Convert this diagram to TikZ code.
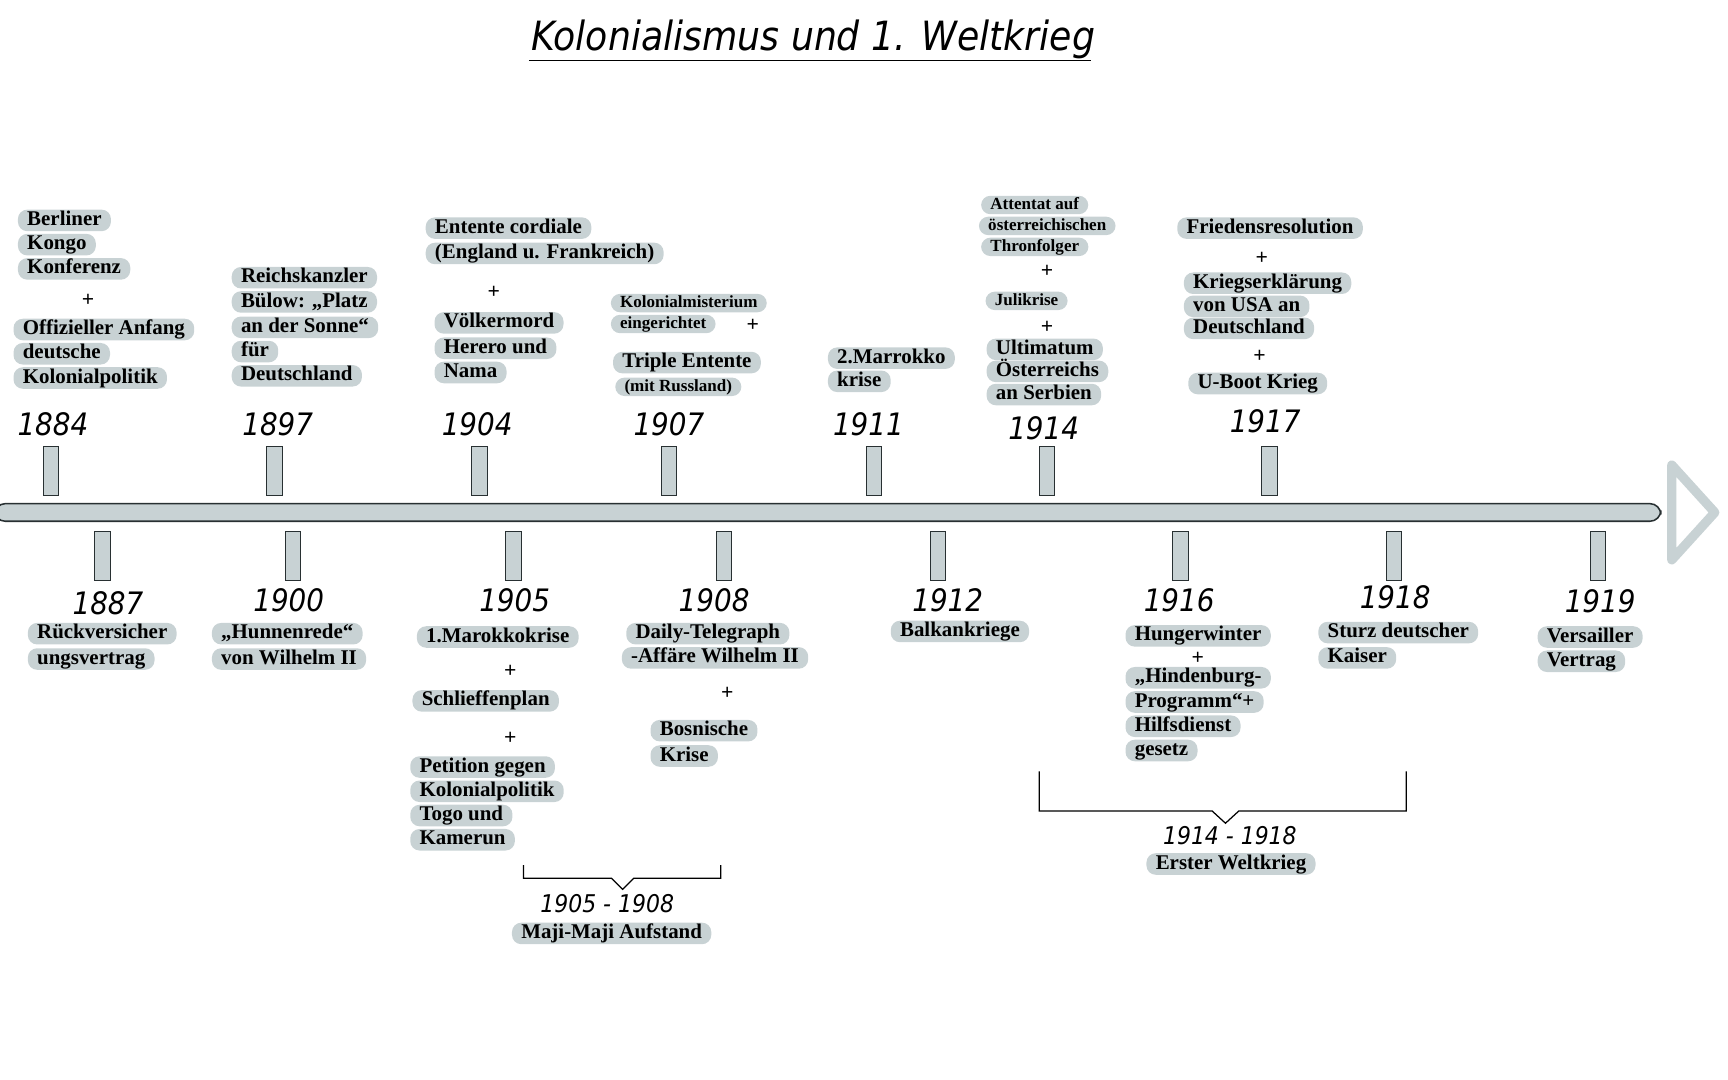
\documentclass[tikz,border=0pt]{standalone}
\usepackage{fontspec}
\setmainfont{Liberation Serif}
\newfontfamily\handfont{DejaVu Sans Condensed}
\usetikzlibrary{calc}
\definecolor{hlgray}{RGB}{200,210,212}
\definecolor{barline}{RGB}{40,48,50}
\begin{document}
\begin{tikzpicture}[x=0.025cm,y=-0.025cm,
  hl/.style={fill=hlgray,rounded corners=6pt,anchor=west,inner xsep=6pt,inner ysep=1.2pt,
    font=\bfseries\fontsize{13.5}{14}\selectfont,text height=9pt,text depth=2.5pt},
  hs/.style={hl,font=\bfseries\fontsize{11}{12}\selectfont,text height=7.5pt,text depth=2pt},
  plus/.style={font=\bfseries\fontsize{14}{14}\selectfont},
  year/.style={font=\handfont\itshape\fontsize{19}{20}\selectfont,scale=1.05},
  tick/.style={fill=hlgray,draw=barline,line width=0.6pt}]
        \useasboundingbox (0,0) rectangle (1568,980);
        % title
        \node[font=\handfont\itshape\fontsize{26}{28}\selectfont] (title) at (738,36) {Kolonialismus und 1. Weltkrieg};
        \coordinate (ul1) at (480,55);
        \coordinate (ul2) at (990,55);
        \draw[line width=0.8pt] (ul1) -- (ul2);
        % timeline
        \draw[fill=hlgray,draw=barline,line width=1pt,rounded corners=7pt] (-5,457) rectangle (1507,473);
        \coordinate (a1) at (1517,422);
        \coordinate (a2) at (1556,465);
        \coordinate (a3) at (1517,508);
        \draw[hlgray,line width=6pt,fill=white,line join=round] (a1) -- (a2) -- (a3) -- cycle;
        \foreach \x in {46,249,435,607,793,950,1152}
          \draw[tick] (\x-7,405) rectangle (\x+7,450);
        \foreach \x in {93,266,466,657,851,1071,1265,1450}
          \draw[tick] (\x-7,482) rectangle (\x+7,527);
        % years
        \foreach \x/\y/\t [count=\i] in {48/385/1884,252/385/1897,433/385/1904,607/385/1907,788/385/1911,
            947/389/1914,1148/382/1917,98/547/1887,262/545/1900,467/545/1905,648/545/1908,
            860/545/1912,1070/545/1916,1266/542/1918,1452/546/1919}
          \node[year] (y\i) at (\x,\y) {\t};
        % upper texts
        \foreach \x/\y/\t [count=\i] in {16/200/Berliner,16/222/Kongo,16/244/Konferenz,
            12/299/Offizieller Anfang,12/321/deutsche,12/343/Kolonialpolitik,
            210/252/Reichskanzler,210/274/{Bülow: „Platz},210/297/{an der Sonne“},210/319/für,210/341/Deutschland,
            386/207/Entente cordiale,386/230/(England u. Frankreich),394/293/Völkermord,394/316/Herero und,394/338/Nama,
            556/329/Triple Entente,751/325/2.Marrokko,751/346/krise,
            1068/207/Friedensresolution,1074/257/Kriegserklärung,1074/278/von USA an,1074/298/Deutschland,1078/348/U-Boot Krieg,
            895/317/Ultimatum,895/337/Österreichs,895/358/an Serbien}
          \node[hl] (u\i) at (\x,\y) {\t};
        \foreach \x/\y/\t [count=\i] in {554/275/Kolonialmisterium,554/294/eingerichtet,558/351/(mit Russland),
            890/186/Attentat auf,888/205/österreichischen,890/224/Thronfolger,894/273/Julikrise}
          \node[hs] (s\i) at (\x,\y) {\t};
        % lower texts
        \foreach \x/\y/\t [count=\i] in {25/575/Rückversicher,25/598/ungsvertrag,
            192/575/„Hunnenrede“,192/598/von Wilhelm II,
            378/578/1.Marokkokrise,374/636/Schlieffenplan,372/696/Petition gegen,372/718/Kolonialpolitik,372/740/Togo und,372/762/Kamerun,
            568/575/Daily-Telegraph,564/597/-Affäre Wilhelm II,590/663/Bosnische,590/686/Krise,
            808/573/Balkankriege,
            1021/577/Hungerwinter,1021/615/„Hindenburg-,1021/637/Programm“+,1021/659/Hilfsdienst,1021/681/gesetz,
            1196/574/Sturz deutscher,1196/597/Kaiser,1395/578/Versailler,1395/600/Vertrag}
          \node[hl] (l\i) at (\x,\y) {\t};
        % plus signs
        \foreach \x/\y [count=\i] in {80/273,448/265,683/295,950/246,950/297,1145/234,1143/323,
            463/609,463/670,660/629,1087/597}
          \node[plus] (p\i) at (\x,\y) {+};
        % brackets
        \coordinate (b1) at (475,785);
        \coordinate (b2) at (654,785);
        \draw[line width=0.8pt] (b1) -- ++(0,12) -- (555,797) -- (565,807) -- (575,797) -- ($(b2)+(0,12)$) -- (b2);
        \node[year,font=\handfont\itshape\fontsize{15}{16}\selectfont] (r1) at (551,820) {1905 - 1908};
        \node[hl,anchor=center] (m1) at (555,847) {Maji-Maji Aufstand};
        \coordinate (b3) at (943,700);
        \coordinate (b4) at (1276,700);
        \draw[line width=0.8pt] (b3) -- ++(0,36) -- (1100,736) -- (1112,747) -- (1124,736) -- ($(b4)+(0,36)$) -- (b4);
        \node[year,font=\handfont\itshape\fontsize{15}{16}\selectfont] (r2) at (1116,758) {1914 - 1918};
        \node[hl,anchor=center] (m2) at (1117,784) {Erster Weltkrieg};
\end{tikzpicture}
\end{document}
